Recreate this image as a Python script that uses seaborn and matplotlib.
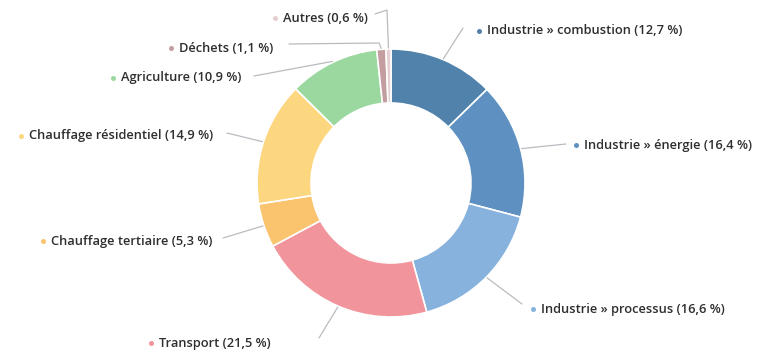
import matplotlib
matplotlib.use("Agg")
import matplotlib.pyplot as plt
import seaborn as sns
import numpy as np

# ---- data ----
categories = ["Industrie » combustion", "Industrie » énergie", "Industrie » processus",
              "Transport", "Chauffage tertiaire", "Chauffage résidentiel",
              "Agriculture", "Déchets", "Autres"]
values = [12.7, 16.4, 16.6, 21.5, 5.3, 14.9, 10.9, 1.1, 0.6]
colors = ["#5182ab", "#5e91c2", "#86b2dd", "#f1949b", "#f9c46d", "#fdd680",
          "#9bd89f", "#c39da0", "#e6cfd1"]

# ---- layout (image pixel coords) ----
W, H = 767, 362
cx, cy, R, ring = 391, 183, 134, 54
# label text anchor (x, y), alignment, elbow points (image coords)
label_pos = [(487, 31, "left"), (584, 145, "left"), (541, 309, "left"),
             (271, 343, "right"), (212, 241, "right"), (213, 136, "right"),
             (241, 78, "right"), (273, 48, "right"), (368, 18, "right")]
line_ends = [(463, 28), (566, 144), (522, 304), (319, 338), (223, 238),
             (227, 133), (254, 76), (289, 44), (375, 14)]
elbows = [[], [], [], [], [], [], [], [(379, 43)], [(387, 10)]]

sns.set_theme(style="white")
plt.rcParams["font.family"] = ["Open Sans", "DejaVu Sans"]

fig = plt.figure(figsize=(W / 100, H / 100), dpi=100)
ax = fig.add_axes([0, 0, 1, 1])

def iy(y):
    return H - y

wedges, _ = ax.pie(values, colors=colors, startangle=90, counterclock=False,
                   radius=R, center=(cx, iy(cy)), frame=True,
                   wedgeprops=dict(width=ring, edgecolor="white", linewidth=1.2))
ax.set_xlim(0, W)
ax.set_ylim(0, H)
ax.set_aspect("equal")
ax.axis("off")

cum = np.cumsum([0] + values[:-1])
for i, (cat, v) in enumerate(zip(categories, values)):
    mid = (cum[i] + v / 2) / sum(values) * 2 * np.pi
    sx = cx + (R + 1) * np.sin(mid)
    sy = cy - (R + 1) * np.cos(mid)
    pts = [(sx, sy)] + elbows[i] + [line_ends[i]]
    xs = [p[0] for p in pts]
    ys = [iy(p[1]) for p in pts]
    ax.plot(xs, ys, color="#b8bcc0", lw=0.9, zorder=1)
    tx, ty, ha = label_pos[i]
    txt = f"{cat} ({str(v).replace('.', ',')} %)"
    t = ax.text(tx, iy(ty), txt, ha=ha, va="center", fontsize=9.3,
                fontweight="semibold", color="#2e2e2e")
    fig.canvas.draw()
    bb = t.get_window_extent().transformed(ax.transData.inverted())
    mx = bb.x0 - 8
    ax.plot([mx], [iy(ty)], marker="o", ms=3.6, color=colors[i], mec="none")

fig.savefig("out.png", dpi=100, facecolor="white")
